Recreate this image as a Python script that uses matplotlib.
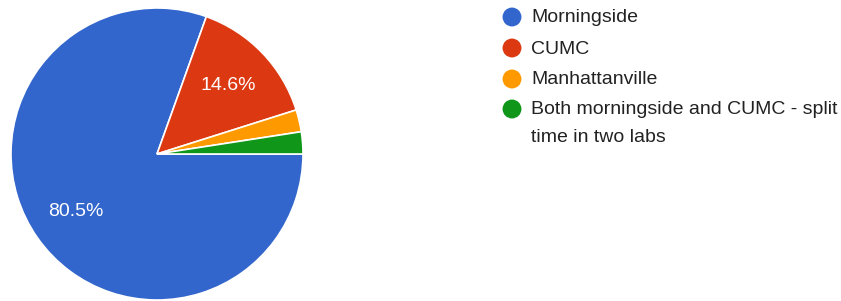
import matplotlib
matplotlib.use("Agg")
import matplotlib.pyplot as plt

categories = ["Morningside", "CUMC", "Manhattanville",
              "Both morningside and CUMC - split\ntime in two labs"]
counts = [33, 6, 1, 1]
colors = ["#3366cc", "#dc3912", "#ff9900", "#109618"]

W, H = 841, 301
DPI = 100
plt.rcParams['font.family'] = ['Liberation Sans', 'DejaVu Sans']
fig = plt.figure(figsize=(W / DPI, H / DPI), dpi=DPI)
fig.patch.set_facecolor("white")

cx, cy, r = 157, 154, 146
ax = fig.add_axes([(cx - r) / W, (H - cy - r) / H, 2 * r / W, 2 * r / H])

def fmt(p):
    return f"{p:.1f}%" if p >= 5 else ""

wedges, texts, autotexts = ax.pie(
    counts, colors=colors, startangle=0, counterclock=False,
    autopct=fmt, pctdistance=0.68, radius=1,
    wedgeprops=dict(edgecolor="white", linewidth=1.2),
    textprops=dict(color="white", fontsize=14))
ax.set_xlim(-1.0, 1.0)
ax.set_ylim(-1.0, 1.0)
ax.set_aspect("auto")
ax.axis("off")

# legend
lax = fig.add_axes([0, 0, 1, 1])
lax.set_xlim(0, W)
lax.set_ylim(H, 0)
lax.axis("off")
ys = [17, 48, 79, 109]
line_gap = 28
for y, lab, col in zip(ys, categories, colors):
    lax.scatter([512], [y], s=185, color=col, edgecolors="none")
    for i, line in enumerate(lab.split("\n")):
        lax.text(531, y + 5.5 + i * line_gap, line, fontsize=14,
                 color="#222222", va="baseline", ha="left")

fig.savefig("out.png", dpi=DPI, facecolor="white")
